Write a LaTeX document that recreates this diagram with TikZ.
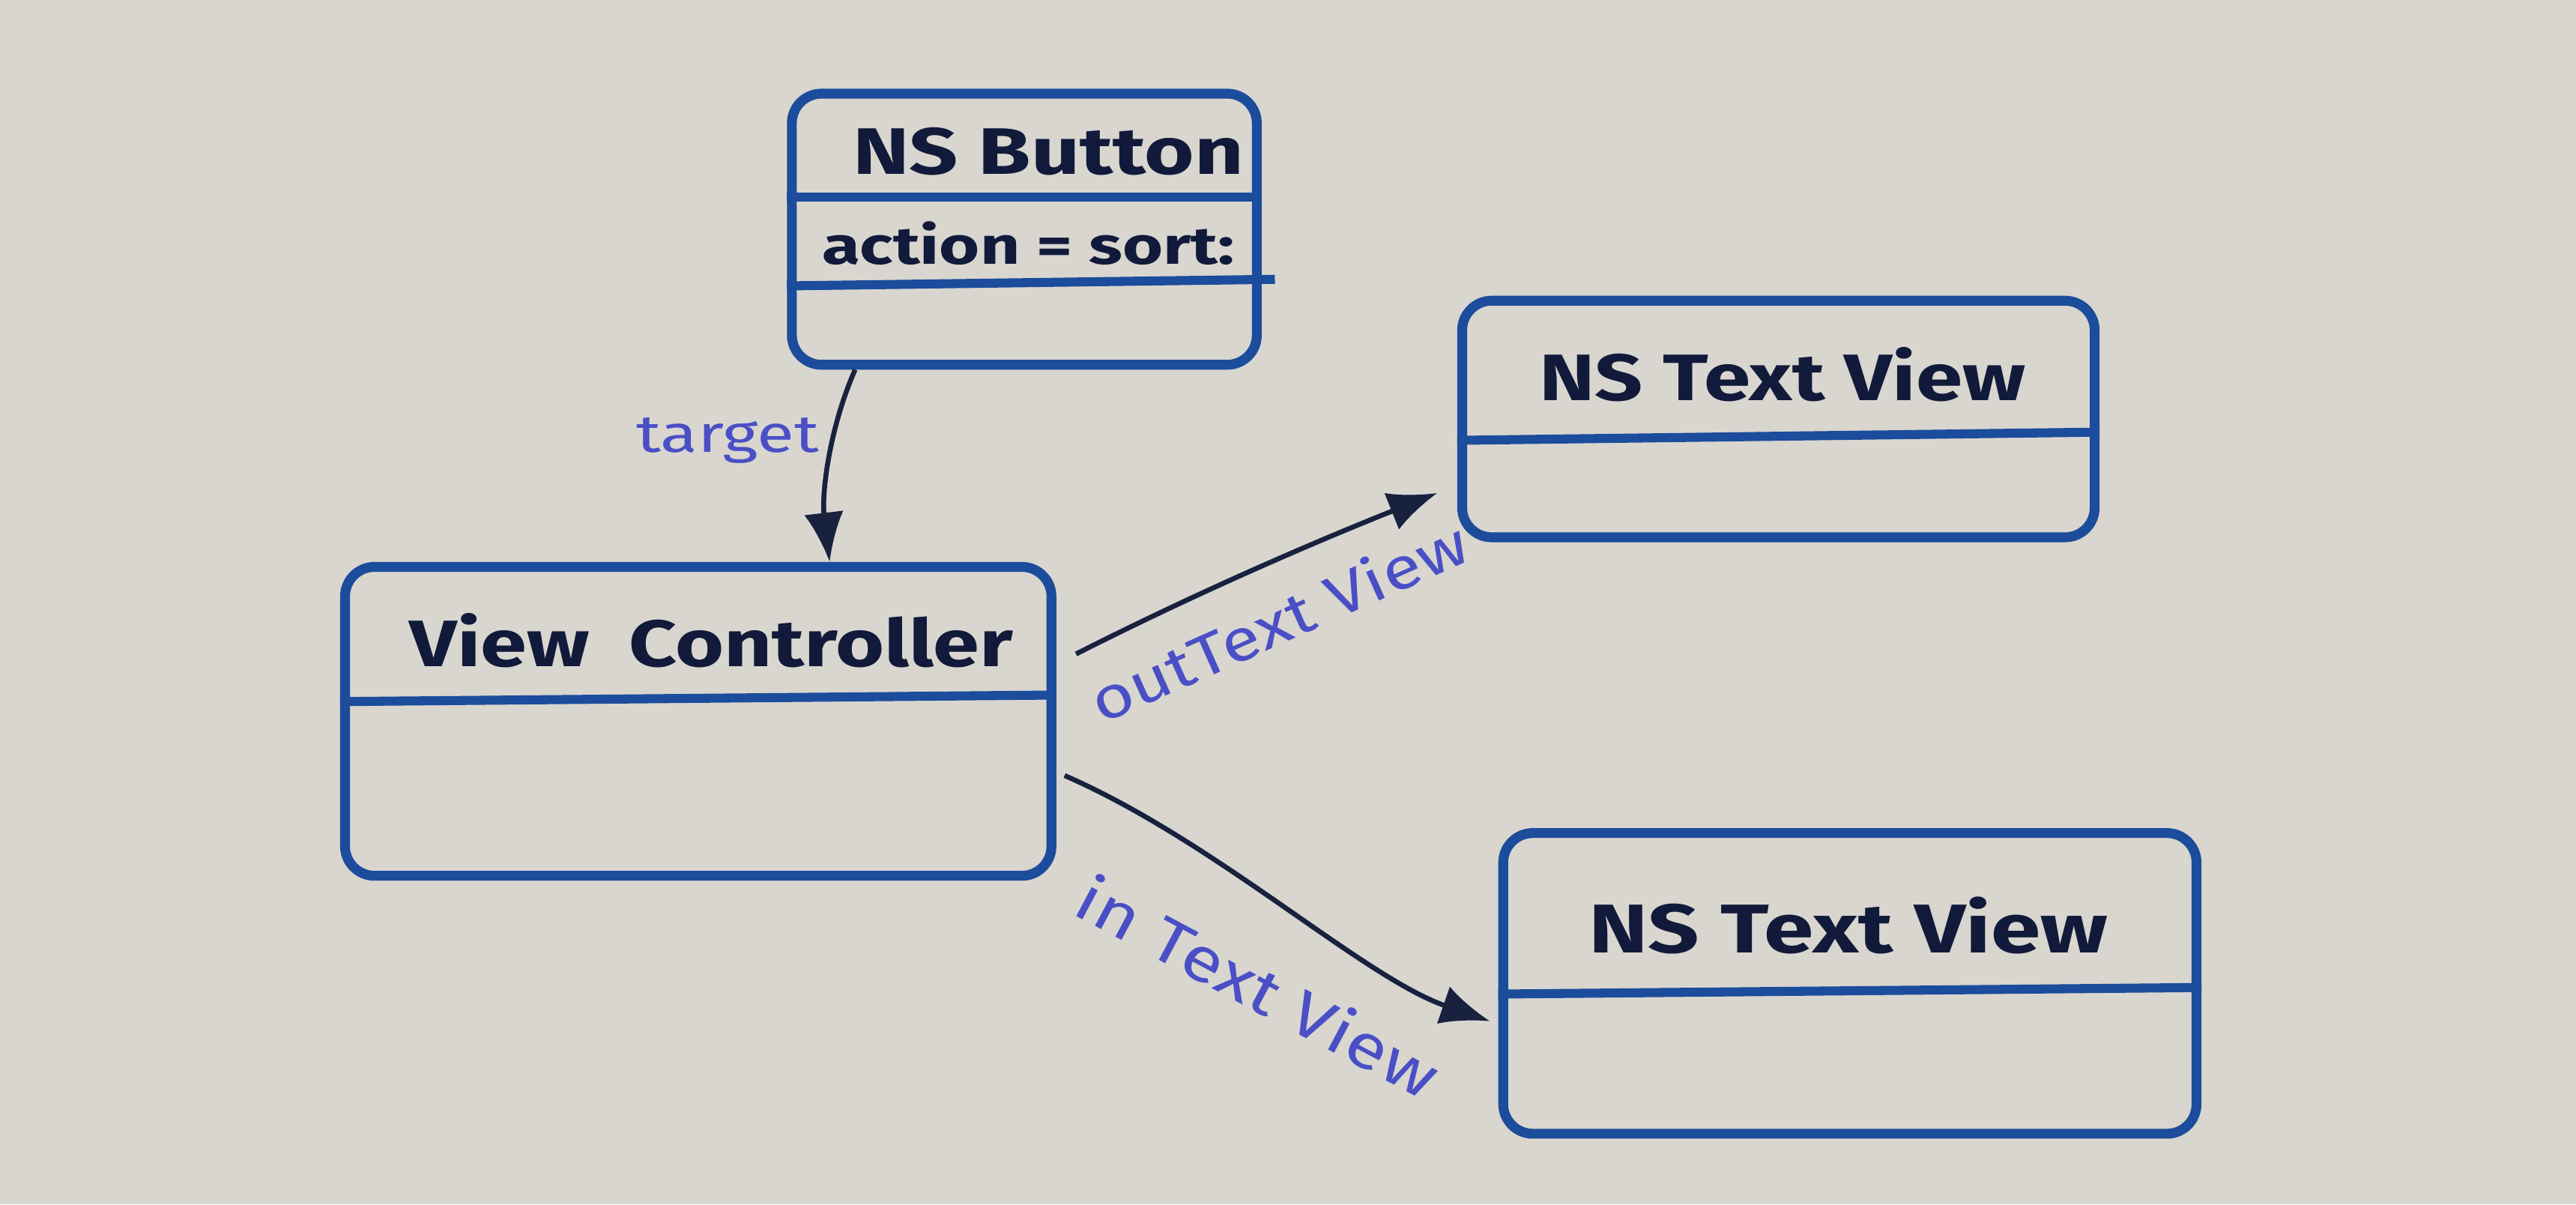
\documentclass[tikz,border=0pt]{standalone}
\usepackage{fontspec}
\setmainfont{Fira Sans}
\usetikzlibrary{arrows.meta,calc}
\definecolor{paper}{HTML}{D8D6CF}
\definecolor{boxblue}{HTML}{1C4C9C}
\definecolor{ink}{HTML}{111A3A}
\definecolor{arrowink}{HTML}{18223E}
\definecolor{labelblue}{HTML}{4A4FC6}
\newcommand{\hs}[2]{\scalebox{#1}[1]{#2}}
\begin{document}
\begin{tikzpicture}[x=1pt,y=-1pt,
  umlbox/.style={draw=boxblue,line width=6pt,rounded corners=18pt,inner sep=0pt},
  divider/.style={draw=boxblue,line width=5.5pt},
  title/.style={text=ink,font=\bfseries\fontsize{40}{42}\selectfont,inner sep=0pt},
  link/.style={draw=arrowink,line width=3pt,-{Latex[length=30pt,width=24pt]}},
  lbl/.style={text=labelblue,font=\fontsize{36}{38}\selectfont,inner sep=0pt}]
\fill[paper] (0,0) rectangle (1568,733);
\useasboundingbox (0,0) rectangle (1568,733);
% boxes
\node[umlbox,minimum width=283pt,minimum height=165pt] (btn) at (623.5,139.5) {};
\node[umlbox,minimum width=385pt,minimum height=144pt] (tv1) at (1082.5,255) {};
\node[umlbox,minimum width=430pt,minimum height=188pt] (vc) at (425,439) {};
\node[umlbox,minimum width=422pt,minimum height=183pt] (tv2) at (1126,598.5) {};
% dividers
\draw[divider] (btn.west |- 0,120) -- (btn.east |- 0,120);
\draw[divider] (btn.west |- 0,174) -- ([xshift=8pt]btn.east |- 0,170);
\draw[divider] (tv1.west |- 0,268) -- (tv1.east |- 0,263);
\draw[divider] (vc.west |- 0,427) -- (vc.east |- 0,423);
\draw[divider] (tv2.west |- 0,605) -- (tv2.east |- 0,601);
% titles
\node[title] (btnT) at (638,92) {\hs{1.3}{NS Button}};
\node[title,font=\bfseries\fontsize{32}{34}\selectfont] (btnA) at (626,148) {\hs{1.32}{action = sort:}};
\node[title] (tv1T) at (1085,228) {\hs{1.28}{NS Text View}};
\node[title] (vcT) at (433,390) {\hs{1.27}{View\ \ Controller}};
\node[title,font=\bfseries\fontsize{42}{44}\selectfont] (tv2T) at (1125,563) {\hs{1.3}{NS Text View}};
% connectors
\draw[link] ([xshift=-103pt]btn.south) .. controls (505,260) and (500,300) .. ([xshift=80pt]vc.north);
\draw[link] ($(vc.east)+(12,-41)$) .. controls (730,360) and (800,330) .. ($(tv1.west)+(-12,45)$);
\draw[link] ($(vc.east)+(5,33)$) .. controls (740,512) and (830,595) .. ($(tv2.west)+(-5,23)$);
% labels
\node[lbl,font=\fontsize{32}{34}\selectfont] (lt) at (443,268) {\hs{1.3}{target}};
\node[lbl,rotate=24] (lo) at (778,378) {\hs{1.2}{outText View}};
\node[lbl,rotate=-28,font=\fontsize{38}{40}\selectfont] (li) at (766,600) {\hs{1.2}{in Text View}};
\end{tikzpicture}
\end{document}
